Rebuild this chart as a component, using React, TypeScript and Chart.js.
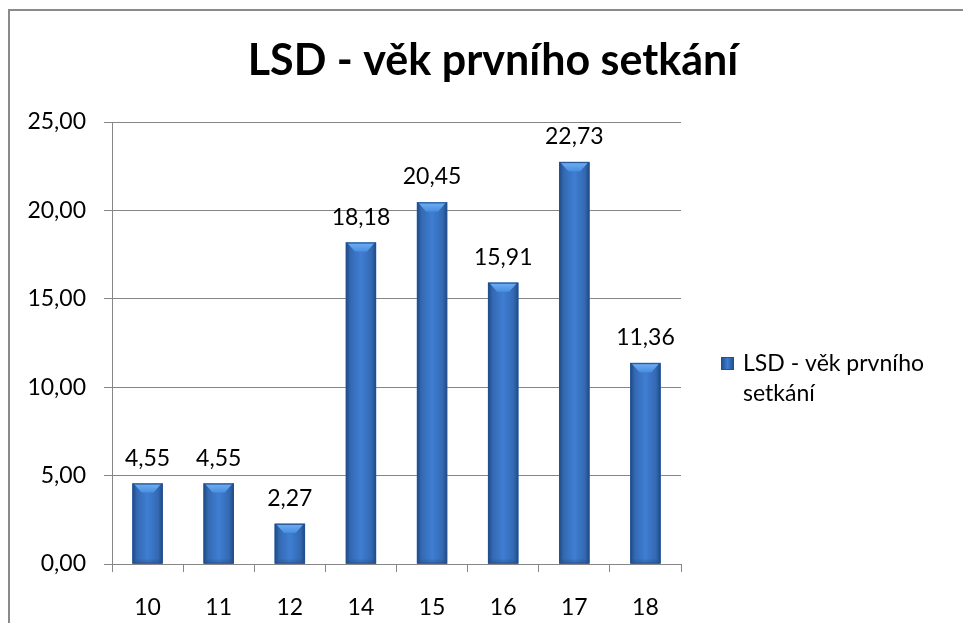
import React, { useEffect, useRef } from "react";
import { Chart, registerables } from "chart.js";

Chart.register(...registerables);

const categories = ["10", "11", "12", "14", "15", "16", "17", "18"];
const values = [4.55, 4.55, 2.27, 18.18, 20.45, 15.91, 22.73, 11.36];
const yTicks = [0, 5, 10, 15, 20, 25];
const titleText = "LSD - věk prvního setkání";
const legendLines = ["LSD - věk prvního", "setkání"];

const FONT = "Lato, 'Open Sans', sans-serif";
const fmt = (v: number) => v.toFixed(2).replace(".", ",");

const CW = 966;
const CH = 620;

const barStyle = {
  id: "barStyle",
  afterDatasetsDraw(chart: any) {
    const ctx = chart.ctx;
    const meta = chart.getDatasetMeta(0);
    meta.data.forEach((bar: any) => {
      const { x, y, width, base } = bar.getProps(["x", "y", "width", "base"], true);
      const l = x - width / 2;
      const r = x + width / 2;
      const h = base - y;
      ctx.save();
      const g = ctx.createLinearGradient(l, 0, r, 0);
      g.addColorStop(0, "#1f4b86");
      g.addColorStop(0.15, "#3469b2");
      g.addColorStop(0.5, "#3f7ed3");
      g.addColorStop(0.85, "#3469b2");
      g.addColorStop(1, "#1f4b86");
      ctx.fillStyle = g;
      ctx.fillRect(l, y, width, h);
      const bev = Math.min(9, h / 2);
      ctx.beginPath();
      ctx.moveTo(l + 1, y);
      ctx.lineTo(r - 1, y);
      ctx.lineTo(r - bev, y + bev);
      ctx.lineTo(l + bev, y + bev);
      ctx.closePath();
      const gb = ctx.createLinearGradient(0, y, 0, y + bev);
      gb.addColorStop(0, "#6fb0f5");
      gb.addColorStop(1, "#4a8ee0");
      ctx.fillStyle = gb;
      ctx.fill();
      ctx.beginPath();
      ctx.moveTo(l, base);
      ctx.lineTo(r, base);
      ctx.lineTo(r - 4, base - 4);
      ctx.lineTo(l + 4, base - 4);
      ctx.closePath();
      ctx.fillStyle = "rgba(30,70,120,0.2)";
      ctx.fill();
      ctx.strokeStyle = "#24508c";
      ctx.lineWidth = 1;
      ctx.strokeRect(l + 0.5, y + 0.5, width - 1, h - 1);
      ctx.restore();
    });
  },
};

const dataLabels = {
  id: "dataLabels",
  afterDatasetsDraw(chart: any) {
    const ctx = chart.ctx;
    const meta = chart.getDatasetMeta(0);
    ctx.save();
    ctx.font = `23px ${FONT}`;
    ctx.fillStyle = "#000";
    ctx.textAlign = "center";
    ctx.textBaseline = "alphabetic";
    meta.data.forEach((bar: any, i: number) => {
      ctx.fillText(fmt(values[i]), bar.x, bar.y - 18);
    });
    ctx.restore();
  },
};

const titleAndLegend = {
  id: "titleAndLegend",
  afterDraw(chart: any) {
    const ctx = chart.ctx;
    ctx.save();
    ctx.fillStyle = "#000";
    ctx.font = `bold 43px ${FONT}`;
    ctx.textAlign = "center";
    ctx.textBaseline = "alphabetic";
    ctx.fillText(titleText, CW / 2, 64);

    const mx = 711;
    const my = 346;
    const ms = 13;
    const g = ctx.createLinearGradient(mx, 0, mx + ms, 0);
    g.addColorStop(0, "#1f4b86");
    g.addColorStop(0.5, "#3f7ed3");
    g.addColorStop(1, "#1f4b86");
    ctx.fillStyle = g;
    ctx.fillRect(mx, my, ms, ms);
    ctx.strokeStyle = "#24508c";
    ctx.strokeRect(mx + 0.5, my + 0.5, ms - 1, ms - 1);

    ctx.fillStyle = "#000";
    ctx.font = `23px ${FONT}`;
    ctx.textAlign = "left";
    legendLines.forEach((line, i) => {
      ctx.fillText(line, 733, 360 + i * 30);
    });
    ctx.restore();
  },
};

export default function App() {
  const ref = useRef<HTMLCanvasElement | null>(null);
  useEffect(() => {
    if (!ref.current) return;
    const chart = new Chart(ref.current, {
      type: "bar",
      data: {
        labels: categories,
        datasets: [
          {
            label: legendLines.join(" "),
            data: values,
            backgroundColor: "#3b73bf",
            borderWidth: 0,
            barThickness: 30,
          },
        ],
      },
      options: {
        animation: false,
        responsive: false,
        layout: { padding: { left: 0, top: 111, right: CW - 671, bottom: CH - 553 - 59 } },
        plugins: {
          legend: { display: false },
          title: { display: false },
          tooltip: { enabled: false },
        },
        scales: {
          x: {
            offset: true,
            grid: {
              offset: true,
              drawOnChartArea: false,
              drawTicks: true,
              tickLength: 8,
              color: "#868686",
              lineWidth: 1,
            },
            border: { color: "#868686", width: 1 },
            ticks: {
              color: "#000",
              font: { family: FONT, size: 23 },
              padding: 22,
              maxRotation: 0,
            },
            afterFit: (s: any) => {
              s.height = 59;
            },
          },
          y: {
            min: 0,
            max: 25,
            afterBuildTicks: (s: any) => {
              s.ticks = yTicks.map((v) => ({ value: v }));
            },
            grid: {
              drawTicks: true,
              tickLength: 8,
              color: "#868686",
              lineWidth: 1,
            },
            border: { color: "#868686", width: 1 },
            ticks: {
              color: "#000",
              font: { family: FONT, size: 23 },
              padding: 18,
              callback: (v: any) => fmt(Number(v)),
            },
            afterFit: (s: any) => {
              s.width = 102;
            },
          },
        },
      },
      plugins: [barStyle, dataLabels, titleAndLegend],
    });
    return () => chart.destroy();
  }, []);

  return (
    <div
      style={{
        position: "fixed",
        left: 8,
        top: 9,
        width: 955,
        height: 614,
        overflow: "hidden",
        borderLeft: "2px solid #8a8a8a",
        borderTop: "2px solid #8a8a8a",
        background: "#fff",
      }}
    >
      <canvas ref={ref} width={CW} height={CH} style={{ display: "block", width: CW, height: CH }} />
    </div>
  );
}
